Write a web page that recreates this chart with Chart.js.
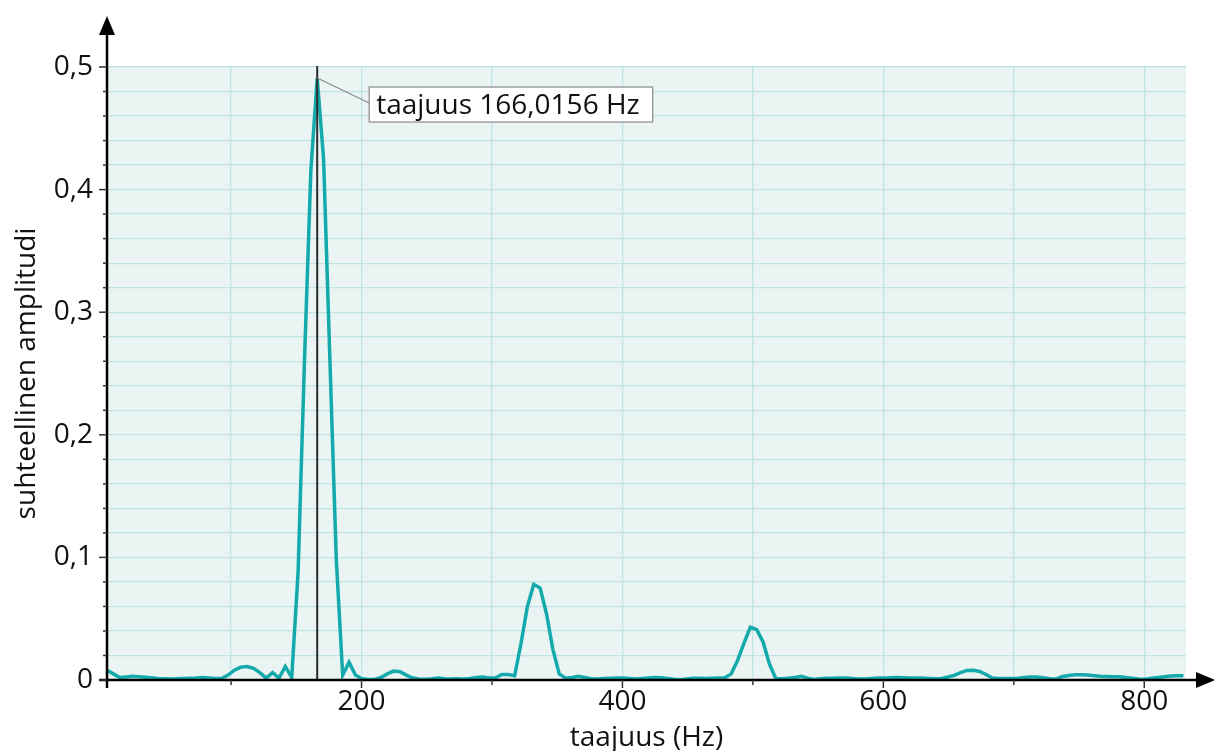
<!DOCTYPE html>
<html>
<head>
<meta charset="utf-8">
<script src="https://cdn.jsdelivr.net/npm/chart.js@4.4.1/dist/chart.umd.min.js"></script>
<style>
  html, body { margin: 0; padding: 0; background: #ffffff; }
  #wrap { width: 1214px; height: 751px; }
</style>
</head>
<body>
<div id="wrap"><canvas id="c" width="1214" height="751"></canvas></div>
<script>
// FFT bin spacing (Hz); bins 1..170
const binWidth = 4.8828125;
// relative amplitude per bin, bins 1..170
const amplitudes = [
  0.008, 0.005, 0.002, 0.0025, 0.003, 0.0027, 0.0022, 0.0018, 0.0013, 0.001,
  0.0008, 0.001, 0.0013, 0.0014, 0.0016, 0.002, 0.0016, 0.0012, 0.0012, 0.004,
  0.008, 0.0105, 0.011, 0.0095, 0.006, 0.0015, 0.006, 0.0015, 0.011, 0.002,
  0.088, 0.26, 0.415, 0.491, 0.425, 0.26, 0.098, 0.004, 0.0145, 0.004,
  0.001, 0.0005, 0.0005, 0.002, 0.005, 0.0073, 0.0068, 0.004, 0.0016, 0.0008,
  0.0006, 0.001, 0.0016, 0.001, 0.0008, 0.001, 0.0009, 0.0012, 0.002, 0.0025,
  0.0016, 0.0018, 0.0045, 0.0045, 0.0035, 0.03, 0.06, 0.078, 0.075, 0.054,
  0.025, 0.005, 0.0015, 0.002, 0.003, 0.002, 0.001, 0.0008, 0.0012, 0.0015,
  0.0017, 0.0016, 0.0012, 0.0008, 0.0012, 0.0016, 0.002, 0.0018, 0.0012, 0.0006,
  0.0002, 0.0008, 0.0014, 0.0014, 0.0012, 0.0014, 0.0016, 0.0018, 0.005, 0.016,
  0.03, 0.043, 0.041, 0.031, 0.013, 0.001, 0.001, 0.0015, 0.002, 0.003,
  0.0015, 0.0005, 0.001, 0.0014, 0.0015, 0.0016, 0.0016, 0.0012, 0.0008, 0.0009,
  0.0013, 0.0016, 0.0016, 0.0018, 0.002, 0.0019, 0.0016, 0.0016, 0.0016, 0.0013,
  0.001, 0.0012, 0.0025, 0.0038, 0.006, 0.0078, 0.008, 0.007, 0.0045, 0.0016,
  0.0012, 0.0012, 0.0013, 0.0014, 0.002, 0.0025, 0.0025, 0.0018, 0.001, 0.0008,
  0.0028, 0.0036, 0.0042, 0.0043, 0.004, 0.0035, 0.003, 0.0028, 0.0027, 0.0027,
  0.002, 0.0015, 0.0008, 0.0006, 0.0015, 0.002, 0.0027, 0.0032, 0.0034, 0.0034
];
const xTicks = [100, 200, 300, 400, 500, 600, 700, 800];
const xLabelTicks = [200, 400, 600, 800];
const yTicks = [0, 0.02, 0.04, 0.06, 0.08, 0.1, 0.12, 0.14, 0.16, 0.18, 0.2, 0.22, 0.24, 0.26, 0.28, 0.3, 0.32, 0.34, 0.36, 0.38, 0.4, 0.42, 0.44, 0.46, 0.48, 0.5];
const yLabelTicks = [0, 0.1, 0.2, 0.3, 0.4, 0.5];
const markerFreq = 166.0156;
const markerAmp = 0.491;
const markerText = 'taajuus 166,0156 Hz';
const xTitle = 'taajuus (Hz)';
const yTitle = 'suhteellinen amplitudi';
const xMin = 4.8828125, xMax = 832;

const points = amplitudes.map((a, i) => ({ x: (i + 1) * binWidth, y: a }));

const FONT = '"Open Sans", "Noto Sans", sans-serif';
const isLabel = (arr, v) => arr.some(t => Math.abs(t - v) < 1e-9);
const fmt = v => String(Math.round(v * 10) / 10).replace('.', ',');

const decor = {
  id: 'decor',
  beforeDraw(chart) {
    const { ctx, chartArea: a } = chart;
    ctx.save();
    ctx.fillStyle = '#EAF4F3';
    ctx.fillRect(a.left, a.top, a.right - a.left, a.bottom - a.top);
    ctx.restore();
  },
  afterDatasetsDraw(chart) {
    const { ctx, scales: { x, y } } = chart;
    ctx.save();
    const mx = x.getPixelForValue(markerFreq);
    ctx.strokeStyle = '#2b2b2b';
    ctx.lineWidth = 2;
    ctx.beginPath();
    ctx.moveTo(mx, y.getPixelForValue(0.5) - 1);
    ctx.lineTo(mx, y.getPixelForValue(0));
    ctx.stroke();
    const py = y.getPixelForValue(markerAmp);
    ctx.font = '28px ' + FONT;
    const tw = ctx.measureText(markerText).width;
    const bx = mx + 52, by = py + 9, bh = 35, bw = tw + 20;
    ctx.strokeStyle = '#8a8a8a';
    ctx.lineWidth = 1.2;
    ctx.beginPath();
    ctx.moveTo(mx, py);
    ctx.lineTo(bx, by + 16);
    ctx.stroke();
    ctx.fillStyle = '#ffffff';
    ctx.fillRect(bx, by, bw, bh);
    ctx.strokeRect(bx, by, bw, bh);
    ctx.fillStyle = '#111111';
    ctx.textBaseline = 'middle';
    ctx.fillText(markerText, bx + 7, by + bh / 2 + 1);
    ctx.restore();
  },
  afterDraw(chart) {
    const { ctx, scales: { x, y } } = chart;
    const ox = x.getPixelForValue(xMin);
    const oy = y.getPixelForValue(0);
    ctx.save();
    ctx.strokeStyle = '#000';
    ctx.fillStyle = '#000';
    ctx.lineWidth = 2.5;
    ctx.beginPath();
    ctx.moveTo(ox, oy + 8);
    ctx.lineTo(ox, 30);
    ctx.stroke();
    ctx.beginPath();
    ctx.moveTo(ox, 16);
    ctx.lineTo(ox - 8, 35);
    ctx.lineTo(ox + 8, 35);
    ctx.closePath();
    ctx.fill();
    ctx.beginPath();
    ctx.moveTo(ox - 8, oy);
    ctx.lineTo(1200, oy);
    ctx.stroke();
    ctx.beginPath();
    ctx.moveTo(1215, oy);
    ctx.lineTo(1196, oy - 8);
    ctx.lineTo(1196, oy + 8);
    ctx.closePath();
    ctx.fill();
    ctx.lineWidth = 1.5;
    ctx.strokeStyle = '#333';
    yTicks.forEach(v => {
      const py = y.getPixelForValue(v);
      const len = isLabel(yLabelTicks, v) ? 8 : 4;
      ctx.beginPath();
      ctx.moveTo(ox - len, py);
      ctx.lineTo(ox, py);
      ctx.stroke();
    });
    xTicks.forEach(v => {
      const px = x.getPixelForValue(v);
      const len = isLabel(xLabelTicks, v) ? 8 : 5;
      ctx.beginPath();
      ctx.moveTo(px, oy);
      ctx.lineTo(px, oy + len);
      ctx.stroke();
    });
    ctx.restore();
  }
};

new Chart(document.getElementById('c'), {
  type: 'line',
  data: {
    datasets: [{
      data: points,
      borderColor: '#14AAAC',
      borderWidth: 3.5,
      pointRadius: 0,
      tension: 0,
      fill: false
    }]
  },
  options: {
    responsive: false,
    animation: false,
    events: [],
    layout: { padding: { top: 67, right: 28, left: 0, bottom: 0 } },
    plugins: { legend: { display: false }, tooltip: { enabled: false } },
    scales: {
      x: {
        type: 'linear',
        min: xMin,
        max: xMax,
        afterBuildTicks: s => { s.ticks = xTicks.map(v => ({ value: v })); },
        afterFit: s => { s.height = 71; },
        border: { display: false },
        grid: { color: '#C2E3E6', lineWidth: 1.3, drawTicks: false },
        ticks: {
          padding: 5,
          color: '#111',
          font: { family: FONT, size: 28 },
          maxRotation: 0,
          autoSkip: false,
          callback: v => isLabel(xLabelTicks, v) ? String(v) : ''
        },
        title: { display: true, text: xTitle, color: '#111', font: { family: FONT, size: 28 }, padding: { top: 0, bottom: -4 } }
      },
      y: {
        type: 'linear',
        min: 0,
        max: 0.5,
        afterBuildTicks: s => { s.ticks = yTicks.map(v => ({ value: v })); },
        afterFit: s => { s.width = 107; },
        border: { display: false },
        grid: { color: '#C2E3E6', lineWidth: 1.3, drawTicks: false },
        ticks: {
          padding: 14,
          color: '#111',
          font: { family: FONT, size: 28 },
          autoSkip: false,
          callback: v => isLabel(yLabelTicks, v) ? fmt(v) : ''
        },
        title: { display: true, text: yTitle, color: '#111', font: { family: FONT, size: 28 }, padding: { top: 10, bottom: 0 } }
      }
    }
  },
  plugins: [decor]
});
</script>
</body>
</html>
